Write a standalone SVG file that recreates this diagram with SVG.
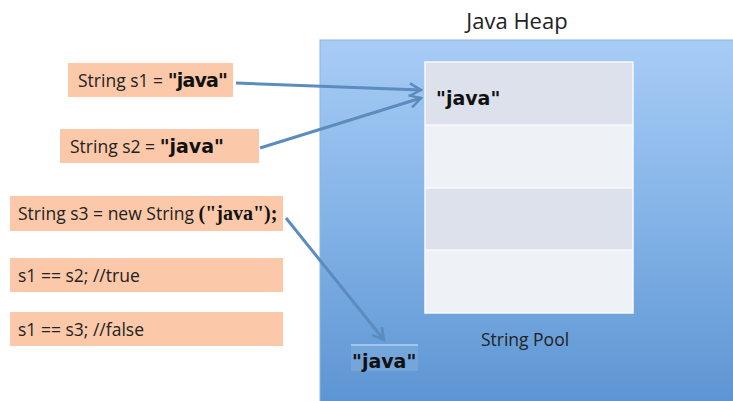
<svg xmlns="http://www.w3.org/2000/svg" width="733" height="401" viewBox="0 0 733 401">
  <defs>
    <linearGradient id="heapFill" x1="0" y1="0" x2="0" y2="1">
      <stop offset="0" stop-color="#a8ccf6"/>
      <stop offset="0.5" stop-color="#82b2e6"/>
      <stop offset="1" stop-color="#5b94d2"/>
    </linearGradient>
    <marker id="vhead" viewBox="0 0 12 12" refX="10" refY="6" markerWidth="5" markerHeight="5" orient="auto" markerUnits="strokeWidth">
      <path d="M1,1 L10,6 L1,11" fill="none" stroke="#5c8cbd" stroke-width="2"/>
    </marker>
    <style>
      .stmt { fill: #fbc9a9; }
      .code { font-family: "Open Sans", "Noto Sans", sans-serif; font-size: 17.5px; fill: #222; }
      .lit { font-family: "DejaVu Sans", Verdana, sans-serif; font-weight: bold; font-size: 19px; fill: #111; }
      .serif { font-family: "Liberation Serif", "Times New Roman", serif; font-weight: bold; font-size: 20px; fill: #111; }
      .label { font-family: "Open Sans", "Noto Sans", sans-serif; fill: #222; }
      .conn { fill: none; stroke: #5c8cbd; stroke-width: 3; marker-end: url(#vhead); }
    </style>
  </defs>

  <rect width="733" height="401" fill="#ffffff"/>

  <!-- heap area -->
  <g id="heap">
    <rect x="320" y="40" width="420" height="370" fill="url(#heapFill)" stroke="#8db3de" stroke-width="1"/>
    <text class="label" x="517" y="29" font-size="22" text-anchor="middle">Java Heap</text>
  </g>

  <!-- string pool table -->
  <g id="pool">
    <rect x="425" y="62" width="208" height="63" fill="#dce1eb"/>
    <rect x="425" y="125" width="208" height="63" fill="#eef1f6"/>
    <rect x="425" y="188" width="208" height="62" fill="#dce1eb"/>
    <rect x="425" y="250" width="208" height="63" fill="#eef1f6"/>
    <g stroke="#f7f9fc" stroke-width="1.5" fill="none">
      <rect x="425" y="62" width="208" height="251"/>
      <line x1="425" y1="125" x2="633" y2="125"/>
      <line x1="425" y1="188" x2="633" y2="188"/>
      <line x1="425" y1="250" x2="633" y2="250"/>
    </g>
    <text class="lit" x="436" y="105">"java"</text>
    <text class="label" x="525" y="346" font-size="17.5" text-anchor="middle">String Pool</text>
  </g>

  <!-- object created outside the pool -->
  <g id="heapObject">
    <rect x="351" y="345" width="67" height="26" fill="#74a5db"/>
    <line x1="351" y1="345" x2="418" y2="345" stroke="#b4d0ef" stroke-width="1.5"/>
    <text class="lit" x="352" y="368">"java"</text>
  </g>

  <!-- statements -->
  <g id="s1">
    <rect class="stmt" x="68" y="63" width="165" height="34"/>
    <text class="code" x="78" y="87">String s1 = <tspan class="lit" font-size="17" letter-spacing="-0.8">"java"</tspan></text>
  </g>
  <g id="s2">
    <rect class="stmt" x="60" y="129" width="199" height="34"/>
    <text class="code" x="70" y="153">String s2 =  <tspan class="lit" font-size="18">"java"</tspan></text>
  </g>
  <g id="s3">
    <rect class="stmt" x="10" y="196" width="273" height="35"/>
    <text class="code" x="18" y="220">String s3 = new String <tspan class="serif">("java");</tspan></text>
  </g>
  <g id="cmp1">
    <rect class="stmt" x="10" y="258" width="273" height="34"/>
    <text class="code" x="18" y="282">s1 == s2; //true</text>
  </g>
  <g id="cmp2">
    <rect class="stmt" x="10" y="312" width="273" height="34"/>
    <text class="code" x="18" y="336">s1 == s3; //false</text>
  </g>

  <!-- references -->
  <g id="connectors">
    <path class="conn" d="M236,83 L421,90"/>
    <path class="conn" d="M260,148 L421,98"/>
    <path class="conn" d="M286,218 L384,340"/>
  </g>
</svg>
